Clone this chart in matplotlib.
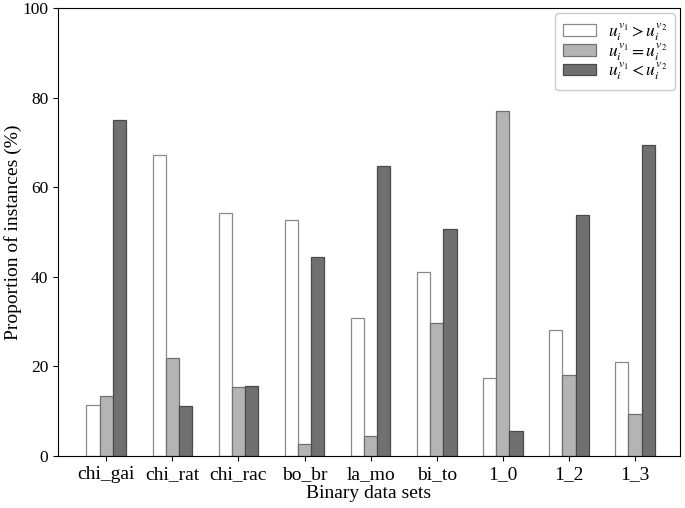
import matplotlib
matplotlib.use("Agg")
import matplotlib.pyplot as plt
import numpy as np

plt.rcParams['font.family'] = ['Liberation Serif', 'DejaVu Serif']
plt.rcParams['mathtext.fontset'] = 'stix'

categories = ['chi_gai', 'chi_rat', 'chi_rac', 'bo_br', 'la_mo', 'bi_to', '1_0', '1_2', '1_3']
greater = [11.4, 67.2, 54.2, 52.7, 30.8, 41.1, 17.4, 28.1, 21.0]
equal = [13.4, 21.9, 15.4, 2.7, 4.5, 29.7, 77.0, 18.1, 9.4]
less = [75.0, 11.2, 15.6, 44.4, 64.7, 50.7, 5.6, 53.8, 69.4]
labels = [r'$u_i^{v_1} > u_i^{v_2}$', r'$u_i^{v_1} = u_i^{v_2}$', r'$u_i^{v_1} < u_i^{v_2}$']

fig = plt.figure(figsize=(6.85, 5.08), dpi=100)
ax = fig.add_axes([0.0847, 0.1024, 0.9080, 0.8819])
x = np.arange(len(categories))
w = 0.2
ax.bar(x - w, greater, w, color='white', edgecolor='#8a8a8a', linewidth=0.9, label=labels[0])
ax.bar(x, equal, w, color='#b4b4b4', edgecolor='#707070', linewidth=0.9, label=labels[1])
ax.bar(x + w, less, w, color='#707070', edgecolor='#4a4a4a', linewidth=0.9, label=labels[2])

ax.set_xlim(-0.73, 8.68)
ax.set_ylim(0, 100)
ax.set_xticks(x)
ax.set_xticklabels(categories, fontsize=14)
ax.set_yticks([0, 20, 40, 60, 80, 100])
ax.tick_params(axis='y', labelsize=12.5)
ax.set_xlabel('Binary data sets', fontsize=14, labelpad=2)
ax.set_ylabel('Proportion of instances (%)', fontsize=14)
ax.yaxis.set_label_coords(-0.058, 0.5)
leg = ax.legend(loc='upper right', fontsize=12.5, handlelength=1.9, handleheight=0.65,
                labelspacing=-0.12, handletextpad=0.65, borderpad=0.45,
                fancybox=True, framealpha=1, edgecolor='#cccccc',
                borderaxespad=0.3)
fig.savefig('out.png', dpi=100)
